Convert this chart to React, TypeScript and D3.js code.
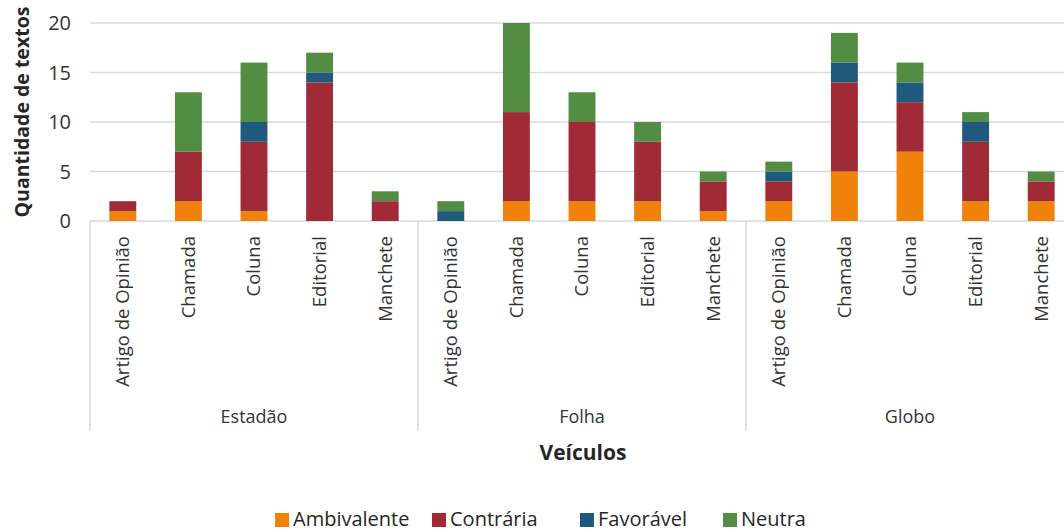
import React, { useEffect, useRef } from "react";
import * as d3 from "d3";

const groups = ["Estadão", "Folha", "Globo"];
const categories = ["Artigo de Opinião", "Chamada", "Coluna", "Editorial", "Manchete"];
const seriesNames = ["Ambivalente", "Contrária", "Favorável", "Neutra"];
const colors = ["#F0820A", "#A12A37", "#1F5A7E", "#538C43"];

// values per group, per category, in category order
const ambivalente = [1, 2, 1, 0, 0, 0, 2, 2, 2, 1, 2, 5, 7, 2, 2];
const contraria = [1, 5, 7, 14, 2, 0, 9, 8, 6, 3, 2, 9, 5, 6, 2];
const favoravel = [0, 0, 2, 1, 0, 1, 0, 0, 0, 0, 1, 2, 2, 2, 0];
const neutra = [0, 6, 6, 2, 1, 1, 9, 3, 2, 1, 1, 3, 2, 1, 1];
const yTicks = [0, 5, 10, 15, 20];

const W = 1064;
const H = 532;
const FONT = "'Open Sans', sans-serif";

export default function App() {
  const ref = useRef<SVGSVGElement>(null);

  useEffect(() => {
    const svg = d3.select(ref.current);
    svg.selectAll("*").remove();

    const rows = groups.flatMap((g, gi) =>
      categories.map((c, ci) => {
        const i = gi * categories.length + ci;
        return {
          key: g + "|" + c,
          group: g,
          cat: c,
          Ambivalente: ambivalente[i],
          "Contrária": contraria[i],
          "Favorável": favoravel[i],
          Neutra: neutra[i],
        };
      })
    );

    const left = 90;
    const right = 1074;
    const top = 23;
    const bottom = 221;

    const x = d3.scaleBand<string>().domain(rows.map(r => r.key)).range([left, right]).paddingInner(0.59).paddingOuter(0.295);
    const xg = d3.scaleBand<string>().domain(groups).range([left, right]);
    const y = d3.scaleLinear().domain([0, 20]).range([bottom, top]);
    const color = d3.scaleOrdinal<string>().domain(seriesNames).range(colors);

    // gridlines
    svg.append("g")
      .selectAll("line")
      .data(yTicks)
      .join("line")
      .attr("x1", left)
      .attr("x2", W)
      .attr("y1", d => y(d))
      .attr("y2", d => y(d))
      .attr("stroke", "#d9d9d9")
      .attr("stroke-width", 1.5);

    // y tick labels
    svg.append("g")
      .selectAll("text")
      .data(yTicks)
      .join("text")
      .attr("x", 71)
      .attr("y", d => y(d))
      .attr("dy", "0.35em")
      .attr("text-anchor", "end")
      .attr("font-family", FONT)
      .attr("font-size", 20)
      .attr("fill", "#333")
      .text(d => d);

    // stacked bars
    const stack = d3.stack<any>().keys(seriesNames)(rows);
    svg.append("g")
      .selectAll("g")
      .data(stack)
      .join("g")
      .attr("fill", d => color(d.key))
      .selectAll("rect")
      .data(d => d)
      .join("rect")
      .attr("x", d => x(d.data.key)!)
      .attr("width", x.bandwidth())
      .attr("y", d => y(d[1]))
      .attr("height", d => y(d[0]) - y(d[1]));

    // group separators
    const sepX = [...groups.map(g => xg(g)!), right];
    svg.append("g")
      .selectAll("line")
      .data(sepX)
      .join("line")
      .attr("x1", d => d)
      .attr("x2", d => d)
      .attr("y1", bottom)
      .attr("y2", 431)
      .attr("stroke", "#d9d9d9")
      .attr("stroke-width", 1.5);

    // category labels
    svg.append("g")
      .selectAll("text")
      .data(rows)
      .join("text")
      .attr("transform", d => `translate(${x(d.key)! + x.bandwidth() / 2},236) rotate(-90)`)
      .attr("dy", "0.35em")
      .attr("text-anchor", "end")
      .attr("font-family", FONT)
      .attr("font-size", 18.5)
      .attr("fill", "#333")
      .text(d => d.cat);

    // group labels
    svg.append("g")
      .selectAll("text")
      .data(groups)
      .join("text")
      .attr("x", d => xg(d)! + xg.bandwidth() / 2)
      .attr("y", 417)
      .attr("dy", "0.35em")
      .attr("text-anchor", "middle")
      .attr("font-family", FONT)
      .attr("font-size", 18)
      .attr("fill", "#333")
      .text(d => d);

    // axis titles
    svg.append("text")
      .attr("x", 583)
      .attr("y", 453)
      .attr("dy", "0.35em")
      .attr("text-anchor", "middle")
      .attr("font-family", FONT)
      .attr("font-size", 21)
      .attr("font-weight", "bold")
      .attr("fill", "#262626")
      .text("Veículos");

    svg.append("text")
      .attr("transform", "translate(22,112) rotate(-90)")
      .attr("dy", "0.35em")
      .attr("text-anchor", "middle")
      .attr("font-family", FONT)
      .attr("font-size", 19.5)
      .attr("font-weight", "bold")
      .attr("fill", "#262626")
      .text("Quantidade de textos");

    // legend
    const legendX = [275, 432, 580, 723];
    const lg = svg.append("g")
      .selectAll("g")
      .data(seriesNames)
      .join("g")
      .attr("transform", (d, i) => `translate(${legendX[i]},519)`);
    lg.append("rect")
      .attr("x", 0)
      .attr("y", -6)
      .attr("width", 14)
      .attr("height", 14)
      .attr("fill", d => color(d));
    lg.append("text")
      .attr("x", 18)
      .attr("y", 0)
      .attr("dy", "0.35em")
      .attr("font-family", FONT)
      .attr("font-size", 20)
      .attr("fill", "#262626")
      .text(d => d);
  }, []);

  return (
    <svg
      ref={ref}
      width={W}
      height={H}
      style={{ position: "absolute", left: 0, top: 0, background: "#fff", overflow: "hidden" }}
    />
  );
}
